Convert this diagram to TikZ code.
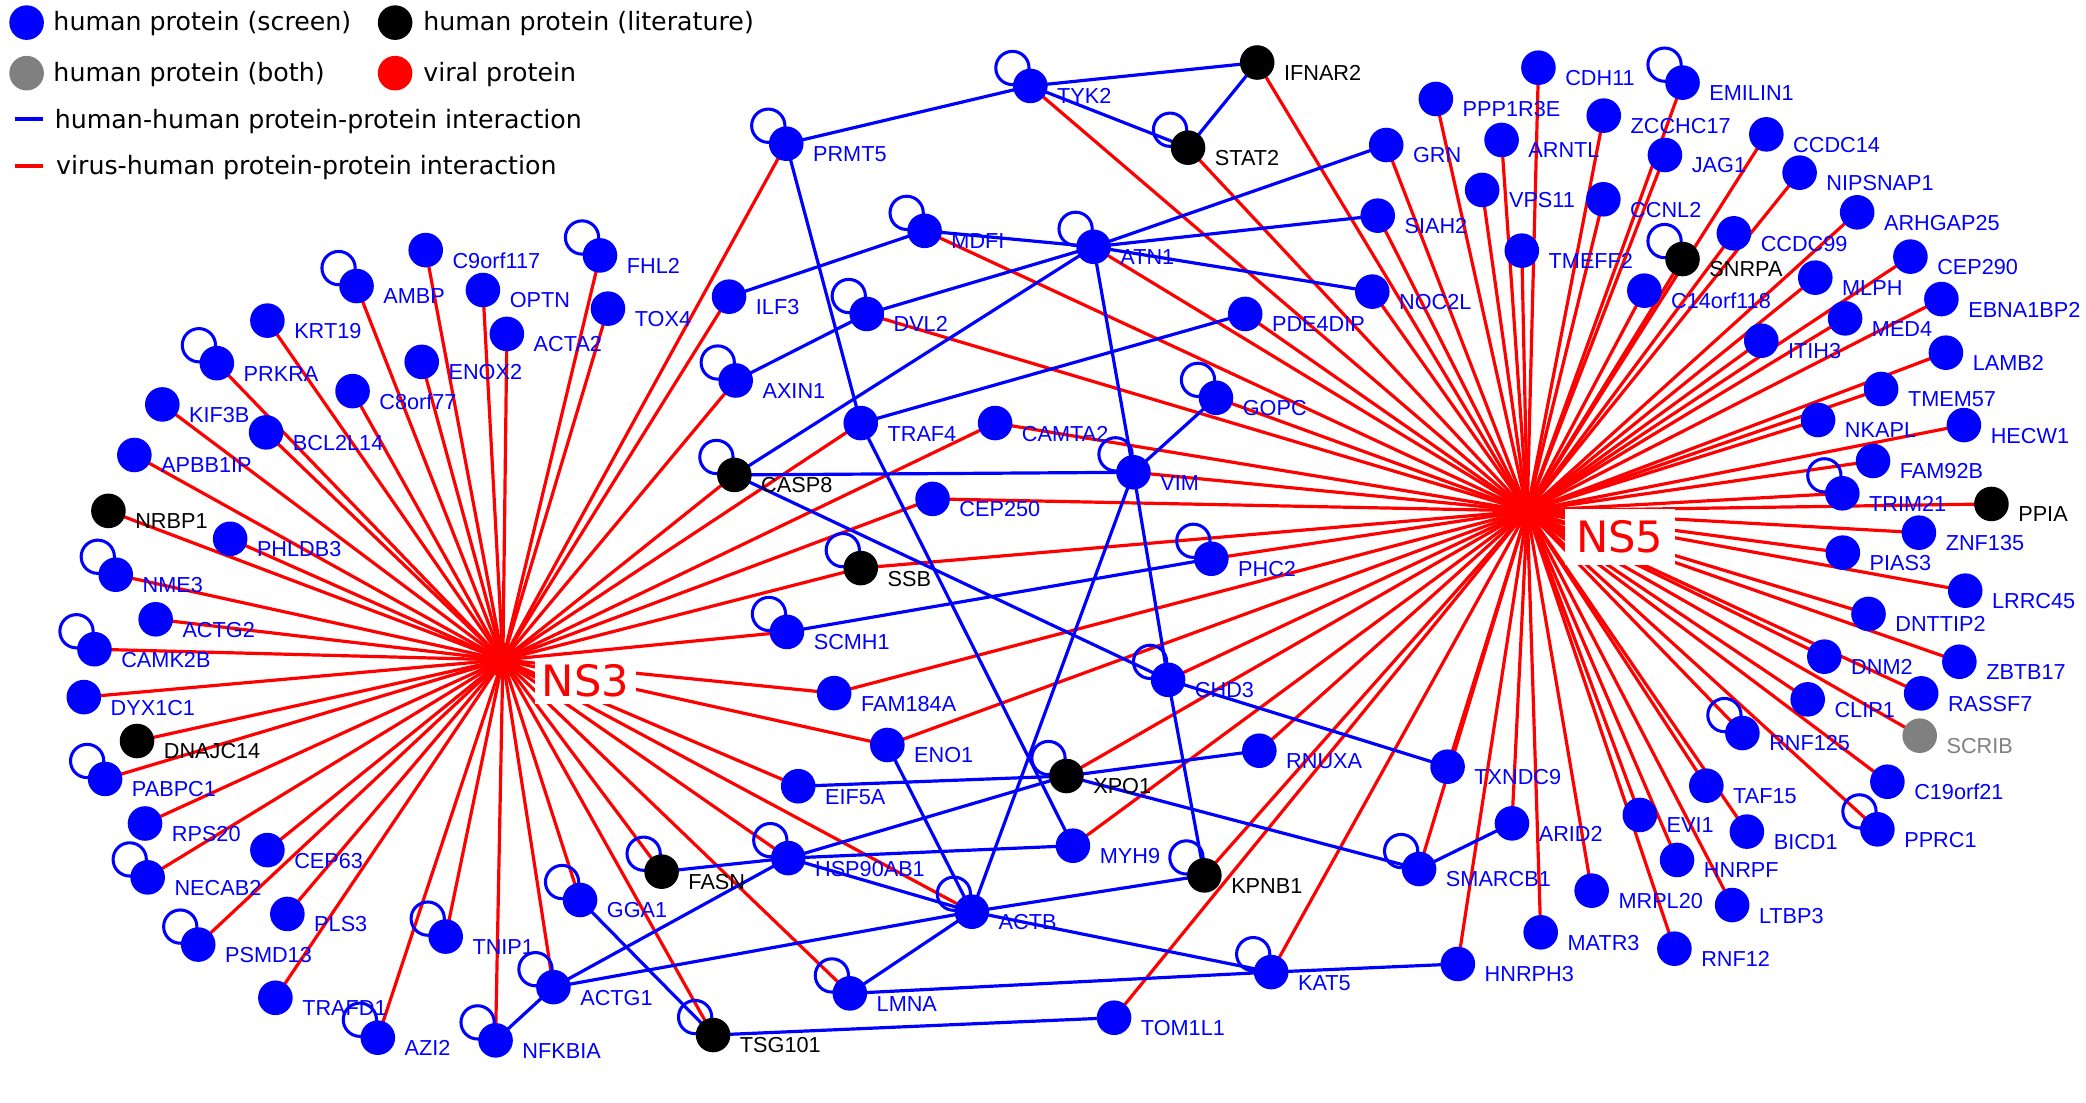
\documentclass[tikz,border=0pt]{standalone}
\usepackage{fontspec}
\setmainfont{Liberation Sans}
\newfontfamily\dvs{DejaVu Sans}
\pgfdeclarelayer{edgelayer}
\pgfsetlayers{edgelayer,main}
\tikzset{
  pnode/.style={circle, inner sep=0pt, minimum size=26pt},
  scr/.style={pnode, fill=blue},
  lit/.style={pnode, fill=black},
  bth/.style={pnode, fill=gray},
  vir/.style={pnode, fill=red},
  lbl/.style={anchor=base west, inner sep=0pt, font=\fontsize{16.3}{18}\selectfont},
  hh/.style={blue, line width=2.4pt},
  vh/.style={red, line width=2.4pt},
  sloop/.style={blue, line width=2.3pt},
  hublbl/.style={anchor=base west, fill=white, text=red, font=\dvs\fontsize{32.5}{36}\selectfont},
  leg/.style={anchor=base west, inner sep=0pt, font=\dvs\fontsize{19}{22}\selectfont},
}
\newcommand\prot[5]{\node[#1] (#2) at (#3,#4) {};
  \node[lbl, text=#5] (#2-l) at ([shift={(20,13.5)}]#2.center) {#2};}
\newcommand\bprot[3]{\prot{scr}{#1}{#2}{#3}{blue}}
\newcommand\kprot[3]{\prot{lit}{#1}{#2}{#3}{black}}
\begin{document}
\begin{tikzpicture}[x=1pt,y=-1pt]
\useasboundingbox (0,0) rectangle (1568,829);
% ---------------- legend
\node[scr] (legS) at (20,17) {};
\node[leg] (legS-t) at (40,23) {human protein (screen)};
\node[lit] (legL) at (297,17) {};
\node[leg] (legL-t) at (318,23) {human protein (literature)};
\node[bth] (legB) at (20,55) {};
\node[leg] (legB-t) at (40,61.4) {human protein (both)};
\node[vir] (legV) at (297,55) {};
\node[leg] (legV-t) at (318,61.4) {viral protein};
\coordinate (hhA) at (11,89.5); \coordinate (hhB) at (32,89.5);
\draw[blue, line width=3pt] (hhA) -- (hhB);
\node[leg] (legH-t) at (41,96.5) {human-human protein-protein interaction};
\coordinate (vhA) at (11,124.5); \coordinate (vhB) at (32,124.5);
\draw[red, line width=3pt] (vhA) -- (vhB);
\node[leg] (legR-t) at (42,131.5) {virus-human protein-protein interaction};
% ---------------- hubs
\node[vir] (NS3) at (378,496) {};
\node[vir] (NS5) at (1148,384) {};
% ---------------- NS3 side
\bprot{C9orf117}{320}{188}
\bprot{FHL2}{451}{192}
\bprot{AMBP}{268}{215}
\bprot{OPTN}{363}{218}
\bprot{TOX4}{457}{232}
\bprot{KRT19}{201}{241}
\bprot{ACTA2}{381}{251}
\bprot{PRKRA}{163}{273}
\bprot{ENOX2}{317}{272}
\bprot{C8orf77}{265}{294}
\bprot{KIF3B}{122}{304}
\bprot{BCL2L14}{200}{325}
\bprot{APBB1IP}{101}{342}
\kprot{NRBP1}{81.5}{384}
\bprot{PHLDB3}{173}{405}
\bprot{NME3}{87}{432}
\bprot{ACTG2}{117}{465.5}
\bprot{CAMK2B}{71}{488}
\bprot{DYX1C1}{63}{524}
\kprot{DNAJC14}{103}{557}
\bprot{PABPC1}{79}{585.5}
\bprot{RPS20}{109}{619}
\bprot{CEP63}{201}{639}
\bprot{NECAB2}{111}{659.5}
\bprot{PLS3}{216}{687}
\bprot{PSMD13}{149}{710}
\bprot{TRAFD1}{207}{750}
\bprot{AZI2}{284}{780}
\bprot{TNIP1}{335}{704}
\bprot{NFKBIA}{372.5}{782}
\bprot{ACTG1}{416}{742}
\bprot{GGA1}{436}{676.5}
% ---------------- centre
\bprot{PRMT5}{591}{108}
\bprot{TYK2}{774.5}{64.6}
\kprot{IFNAR2}{945}{47}
\kprot{STAT2}{893}{111}
\bprot{MDFI}{695}{173.5}
\bprot{ATN1}{822}{185.5}
\bprot{ILF3}{548}{223}
\bprot{DVL2}{651.5}{236}
\bprot{PDE4DIP}{936}{236}
\bprot{AXIN1}{553}{286}
\bprot{TRAF4}{647}{318}
\bprot{CAMTA2}{748}{318}
\bprot{GOPC}{914}{299}
\kprot{CASP8}{552}{357}
\bprot{VIM}{852}{355}
\bprot{CEP250}{701}{375}
\kprot{SSB}{647}{427}
\bprot{PHC2}{910.5}{420}
\bprot{SCMH1}{591.5}{475}
\bprot{FAM184A}{627}{521}
\bprot{CHD3}{878}{511}
\bprot{ENO1}{667}{560}
\bprot{EIF5A}{600}{591}
\kprot{XPO1}{801.6}{583.3}
\bprot{RNUXA}{946.6}{564.3}
\bprot{HSP90AB1}{592.5}{645}
\bprot{MYH9}{806.5}{635.7}
\kprot{FASN}{497.3}{655.2}
\kprot{KPNB1}{905.3}{658}
\bprot{ACTB}{730.5}{685.3}
\bprot{KAT5}{955.5}{730.7}
\bprot{LMNA}{638.8}{746.7}
\bprot{TOM1L1}{837.4}{765}
\kprot{TSG101}{536}{778}
% ---------------- NS5 side
\bprot{CDH11}{1156.4}{50.9}
\bprot{EMILIN1}{1264.7}{62.1}
\bprot{PPP1R3E}{1079.3}{74.4}
\bprot{ZCCHC17}{1205.5}{86.9}
\bprot{CCDC14}{1327.7}{101}
\bprot{ARNTL}{1128.7}{105.2}
\bprot{GRN}{1042}{109}
\bprot{JAG1}{1251.5}{116.5}
\bprot{NIPSNAP1}{1352.7}{129.8}
\bprot{VPS11}{1114.1}{142.8}
\bprot{CCNL2}{1205.2}{149.8}
\bprot{ARHGAP25}{1396}{159.6}
\bprot{SIAH2}{1035.6}{162.1}
\bprot{CCDC99}{1303.3}{175.4}
\bprot{TMEFF2}{1143.9}{188.4}
\kprot{SNRPA}{1264.7}{194.7}
\bprot{CEP290}{1436}{192.9}
\bprot{MLPH}{1364.5}{208.7}
\bprot{C14orf118}{1236}{218.5}
\bprot{NOC2L}{1031.5}{219.2}
\bprot{EBNA1BP2}{1459.3}{224.8}
\bprot{MED4}{1386.9}{239.3}
\bprot{ITIH3}{1323.9}{256.1}
\bprot{LAMB2}{1462.7}{265.1}
\bprot{TMEM57}{1414}{292.4}
\bprot{NKAPL}{1366.6}{315.7}
\bprot{HECW1}{1476.2}{319.5}
\bprot{FAM92B}{1407.9}{346.5}
\bprot{TRIM21}{1384.8}{370.8}
\kprot{PPIA}{1496.9}{378.8}
\bprot{ZNF135}{1442.4}{400.4}
\bprot{PIAS3}{1385.2}{415.4}
\bprot{LRRC45}{1477.2}{444}
\bprot{DNTTIP2}{1404.5}{461.5}
\bprot{DNM2}{1371.3}{493.6}
\bprot{ZBTB17}{1472.8}{497.4}
\bprot{RASSF7}{1444.1}{521.2}
\bprot{CLIP1}{1358.8}{525.7}
\bprot{RNF125}{1309.7}{551}
\prot{bth}{SCRIB}{1443}{553}{gray}
\bprot{TXNDC9}{1088.1}{576.3}
\bprot{C19orf21}{1418.7}{587.6}
\bprot{TAF15}{1282.6}{590.6}
\bprot{EVI1}{1232.6}{612.6}
\bprot{ARID2}{1136.5}{618.9}
\bprot{PPRC1}{1411.2}{623.4}
\bprot{BICD1}{1313.1}{625.1}
\bprot{HNRPF}{1260.6}{646.4}
\bprot{SMARCB1}{1066.7}{653.2}
\bprot{MRPL20}{1196.4}{669.5}
\bprot{LTBP3}{1302}{680.3}
\bprot{MATR3}{1158.1}{700.8}
\bprot{RNF12}{1258.6}{713.1}
\bprot{HNRPH3}{1095.8}{724.6}
% ---------------- hub labels
\node[hublbl, inner sep=5pt] (NS3-l) at (402,523.5) {NS3};
\node[hublbl, inner xsep=8.5pt, inner ysep=8.5pt] (NS5-l) at (1176,415.4) {NS5};
% ---------------- edges
\begin{pgfonlayer}{edgelayer}
\foreach \n in {C9orf117,FHL2,AMBP,OPTN,TOX4,KRT19,ACTA2,PRKRA,ENOX2,C8orf77,KIF3B,BCL2L14,APBB1IP,NRBP1,PHLDB3,NME3,ACTG2,CAMK2B,DYX1C1,DNAJC14,PABPC1,RPS20,CEP63,NECAB2,PLS3,PSMD13,TRAFD1,AZI2,TNIP1,NFKBIA,ACTG1,GGA1,TSG101,FASN,LMNA,HSP90AB1,ACTB,EIF5A,ENO1,FAM184A,SCMH1,SSB,CEP250,CASP8,CAMTA2,TRAF4,AXIN1,ILF3,PRMT5}
  \draw[vh] (NS3.center) -- (\n.center);
\foreach \n in {TYK2,IFNAR2,STAT2,MDFI,ATN1,DVL2,PDE4DIP,GOPC,CAMTA2,VIM,CEP250,SSB,PHC2,FAM184A,ENO1,CHD3,XPO1,RNUXA,MYH9,KPNB1,TOM1L1,KAT5,TXNDC9,SMARCB1,HNRPH3,ARID2,MATR3,MRPL20,EVI1,RNF12,HNRPF,LTBP3,TAF15,BICD1,RNF125,PPRC1,C19orf21,SCRIB,CLIP1,RASSF7,DNM2,ZBTB17,DNTTIP2,LRRC45,PIAS3,ZNF135,PPIA,TRIM21,FAM92B,HECW1,NKAPL,TMEM57,LAMB2,ITIH3,MED4,EBNA1BP2,MLPH,CEP290,ARHGAP25,CCDC99,NIPSNAP1,CCDC14,SNRPA,C14orf118,JAG1,EMILIN1,ZCCHC17,CCNL2,TMEFF2,CDH11,ARNTL,VPS11,PPP1R3E,GRN,SIAH2,NOC2L}
  \draw[vh] (NS5.center) -- (\n.center);
\foreach \a/\b in {PRMT5/TYK2,TYK2/IFNAR2,TYK2/STAT2,STAT2/IFNAR2,PRMT5/TRAF4,TRAF4/MYH9,TRAF4/PDE4DIP,MDFI/ILF3,MDFI/ATN1,ATN1/GRN,ATN1/SIAH2,ATN1/NOC2L,ATN1/DVL2,ATN1/CASP8,AXIN1/DVL2,ATN1/VIM,VIM/CHD3,CHD3/KPNB1,CASP8/VIM,CASP8/CHD3,CHD3/TXNDC9,VIM/GOPC,VIM/ACTB,SCMH1/PHC2,ENO1/ACTB,EIF5A/XPO1,XPO1/RNUXA,XPO1/HSP90AB1,XPO1/SMARCB1,HSP90AB1/MYH9,HSP90AB1/FASN,HSP90AB1/ACTB,HSP90AB1/ACTG1,ACTB/KPNB1,ACTB/KAT5,ACTB/LMNA,ACTB/ACTG1,LMNA/KAT5,KAT5/HNRPH3,TSG101/TOM1L1,TSG101/GGA1,ACTG1/NFKBIA,SMARCB1/ARID2}
  \draw[hh] (\a.center) -- (\b.center);
\foreach \n in {AMBP,FHL2,PRKRA,NME3,CAMK2B,PABPC1,NECAB2,PSMD13,AZI2,TNIP1,NFKBIA,ACTG1,GGA1,FASN,TSG101,HSP90AB1,LMNA,ACTB,XPO1,KPNB1,KAT5,SMARCB1,CHD3,PHC2,SCMH1,SSB,CASP8,VIM,GOPC,AXIN1,DVL2,MDFI,ATN1,PRMT5,TYK2,STAT2,EMILIN1,SNRPA,TRIM21,RNF125,PPRC1}
  \draw[sloop] ([shift={(-13.5,-13.5)}]\n.center) circle[radius=12.5pt];
\end{pgfonlayer}
\end{tikzpicture}
\end{document}
